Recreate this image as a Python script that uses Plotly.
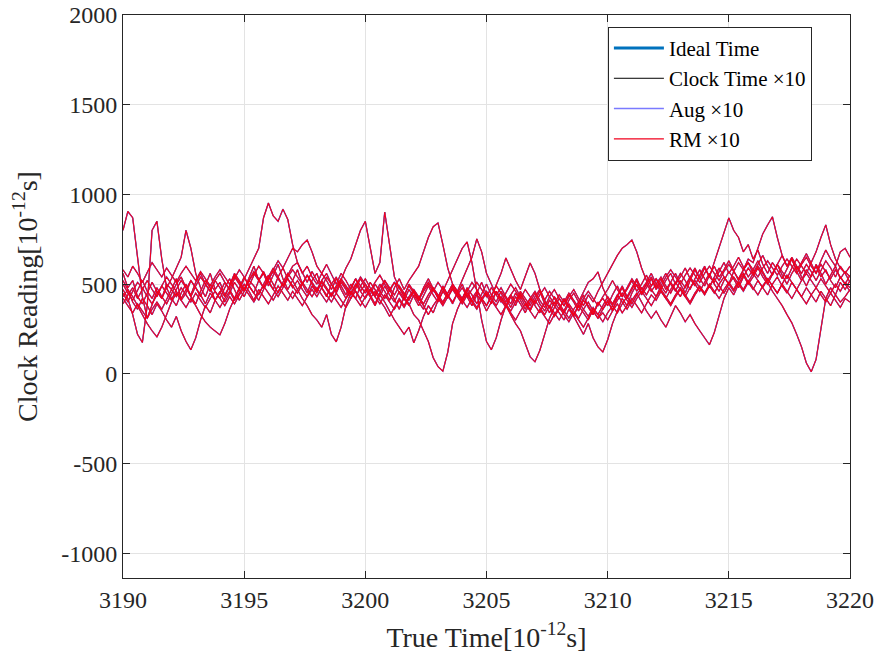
import numpy as np
import plotly.graph_objects as go

# sample grid of true time (10^-12 s)
true_time = [round(3190 + 0.2 * i, 1) for i in range(151)]

run1 = [800, 905, 870, 660, 430, 310, 380, 460, 420, 500,
        470, 530, 410, 450, 520, 480, 430, 500, 560, 470,
        510, 440, 490, 560, 520, 470, 540, 600, 520, 560,
        490, 550, 610, 530, 470, 520, 580, 500, 450, 520,
        560, 480, 430, 500, 540, 470, 420, 480, 530, 460,
        500, 440, 390, 450, 520, 470, 410, 360, 430, 390,
        330, 300, 240, 180, 90, 40, 15, 120, 280, 360,
        420, 470, 400, 450, 510, 440, 390, 460, 410, 370,
        430, 380, 450, 400, 350, 410, 460, 390, 340, 400,
        360, 420, 380, 320, 390, 440, 370, 330, 400, 360,
        410, 350, 430, 480, 420, 470, 520, 450, 500, 540,
        480, 530, 470, 510, 560, 500, 450, 520, 580, 530,
        590, 540, 620, 700, 780, 869, 800, 760, 680, 720,
        640, 690, 610, 560, 620, 580, 530, 590, 640, 570,
        520, 580, 540, 610, 560, 500, 550, 600, 530, 570,
        540]
run2 = [470, 420, 330, 220, 175, 380, 800, 850, 640, 480,
        420, 380, 450, 500, 430, 390, 460, 520, 480, 410,
        450, 510, 470, 420, 480, 540, 490, 450, 520, 570,
        510, 470, 540, 590, 530, 480, 520, 470, 430, 490,
        450, 520, 560, 500, 460, 530, 590, 640, 720, 800,
        850, 700, 560, 620, 902, 720, 540, 480, 430, 500,
        460, 410, 480, 530, 470, 420, 490, 440, 390, 450,
        500, 430, 380, 440, 410, 350, 400, 460, 420, 380,
        330, 280, 240, 170, 95, 67, 130, 220, 310, 370,
        420, 380, 440, 400, 350, 410, 380, 330, 390, 420,
        380, 440, 490, 430, 470, 520, 460, 500, 550, 490,
        530, 470, 520, 560, 500, 540, 590, 530, 490, 550,
        600, 540, 510, 570, 620, 560, 600, 650, 590, 540,
        580, 630, 570, 520, 560, 610, 550, 500, 560, 600,
        540, 490, 550, 600, 540, 580, 520, 480, 540, 500,
        460]
run3 = [560, 480, 520, 430, 390, 450, 510, 460, 420, 480,
        530, 590, 650, 800, 700, 560, 480, 430, 500, 460,
        420, 480, 530, 470, 410, 460, 520, 490, 440, 500,
        550, 500, 450, 510, 560, 520, 470, 420, 380, 330,
        300, 260, 330, 220, 178, 260, 380, 450, 420, 490,
        530, 480, 440, 500, 460, 410, 480, 530, 470, 520,
        560, 600, 680, 760, 820, 841, 720, 590, 500, 460,
        420, 480, 440, 390, 450, 500, 440, 400, 460, 420,
        370, 430, 390, 340, 400, 450, 390, 350, 410, 380,
        340, 300, 360, 320, 270, 220, 280, 200, 150, 122,
        190, 280, 350, 420, 380, 450, 500, 440, 480, 530,
        470, 510, 560, 500, 460, 520, 480, 540, 590, 530,
        490, 550, 600, 540, 580, 630, 570, 520, 580, 620,
        560, 610, 660, 600, 550, 610, 660, 600, 640, 580,
        620, 670, 610, 560, 630, 690, 640, 600, 680, 700,
        650]
run4 = [430, 470, 400, 360, 420, 380, 330, 390, 350, 300,
        260, 320, 240, 180, 134, 200, 300, 380, 340, 410,
        460, 400, 450, 510, 470, 530, 590, 640, 700, 870,
        952, 880, 850, 918, 860, 720, 620, 560, 600, 540,
        500, 560, 520, 470, 530, 490, 440, 500, 460, 420,
        470, 430, 380, 440, 400, 350, 300, 260, 220, 260,
        173, 240, 320, 380, 340, 410, 460, 420, 480, 440,
        400, 460, 510, 470, 420, 380, 440, 490, 450, 400,
        440, 480, 430, 380, 420, 460, 410, 370, 430, 470,
        420, 380, 430, 470, 420, 380, 440, 400, 460, 510,
        560, 610, 660, 700, 720, 746, 680, 590, 520, 470,
        430, 490, 450, 510, 470, 430, 490, 540, 500, 460,
        510, 560, 500, 460, 520, 570, 530, 480, 540, 590,
        550, 600, 560, 510, 460, 420, 380, 330, 284, 220,
        150, 60, 11, 80, 260, 420, 480, 440, 510, 470,
        520]
run5 = [500, 450, 410, 470, 520, 460, 420, 480, 430, 390,
        450, 500, 540, 480, 440, 510, 560, 500, 460, 520,
        480, 430, 490, 540, 500, 460, 520, 570, 530, 480,
        540, 590, 540, 490, 550, 600, 620, 560, 510, 570,
        520, 480, 540, 500, 450, 510, 470, 420, 480, 530,
        480, 440, 500, 460, 420, 470, 510, 450, 410, 470,
        430, 380, 440, 490, 440, 400, 460, 520, 580, 640,
        700, 735, 620, 460, 300, 180, 134, 200, 300, 380,
        440, 400, 460, 420, 380, 430, 470, 410, 370, 430,
        390, 350, 410, 450, 400, 460, 510, 530, 568, 480,
        420, 380, 440, 490, 430, 480, 530, 470, 510, 560,
        500, 540, 490, 450, 510, 560, 520, 470, 530, 580,
        530, 480, 540, 590, 540, 500, 570, 620, 580, 640,
        620, 700, 780, 830, 875, 760, 660, 600, 650, 600,
        560, 610, 570, 520, 580, 630, 590, 540, 600, 560,
        600]
run6 = [450, 400, 460, 510, 480, 430, 390, 440, 490, 450,
        410, 470, 520, 480, 430, 490, 540, 500, 460, 520,
        560, 510, 470, 530, 580, 540, 490, 550, 600, 560,
        520, 580, 630, 590, 650, 700, 680, 720, 746, 680,
        600, 560, 610, 550, 500, 560, 520, 470, 530, 490,
        450, 510, 470, 430, 490, 440, 400, 460, 420, 380,
        440, 400, 360, 420, 470, 430, 390, 450, 500, 460,
        520, 580, 650, 752, 680, 560, 500, 440, 480, 430,
        390, 450, 410, 360, 420, 380, 340, 400, 370, 320,
        360, 410, 370, 330, 380, 340, 300, 360, 330, 380,
        430, 390, 440, 400, 360, 410, 450, 400, 350, 310,
        350, 300, 260, 320, 380, 340, 290, 330, 280, 240,
        200, 162, 230, 330, 420, 480, 440, 500, 550, 500,
        540, 590, 540, 500, 560, 610, 570, 530, 590, 640,
        600, 560, 620, 680, 760, 830, 720, 640, 590, 560,
        510]
run7 = [390, 440, 480, 420, 470, 520, 470, 430, 490, 540,
        500, 460, 420, 470, 520, 480, 440, 390, 450, 410,
        370, 420, 460, 410, 450, 500, 460, 410, 470, 430,
        390, 440, 490, 450, 410, 460, 420, 380, 430, 470,
        430, 480, 440, 400, 450, 410, 370, 420, 460, 410,
        370, 420, 460, 410, 370, 320, 370, 420, 380, 430,
        470, 430, 390, 440, 480, 440, 400, 450, 490, 450,
        410, 370, 420, 460, 420, 380, 430, 490, 560, 646,
        580, 520, 470, 540, 618, 560, 470, 410, 460, 420,
        380, 340, 390, 350, 310, 360, 400, 350, 310, 340,
        300, 350, 390, 340, 380, 420, 380, 340, 390, 440,
        410, 460, 420, 380, 430, 470, 430, 390, 440, 480,
        450, 500, 460, 420, 470, 510, 470, 520, 560, 510,
        470, 520, 480, 440, 500, 540, 490, 450, 510, 470,
        430, 480, 440, 400, 460, 420, 380, 440, 400, 430,
        470]
run8 = [520, 470, 430, 380, 330, 280, 240, 206, 260, 330,
        400, 450, 410, 370, 420, 380, 330, 290, 260, 240,
        217, 280, 360, 420, 470, 430, 490, 450, 410, 470,
        520, 470, 430, 480, 530, 490, 450, 500, 550, 500,
        460, 510, 470, 430, 480, 520, 480, 440, 490, 540,
        500, 460, 510, 550, 500, 460, 510, 480, 440, 490,
        450, 410, 460, 500, 460, 510, 470, 430, 480, 440,
        480, 430, 470, 510, 470, 430, 480, 440, 400, 450,
        500, 460, 420, 470, 430, 390, 440, 480, 430, 390,
        440, 400, 450, 410, 370, 420, 460, 420, 380, 430,
        470, 520, 470, 430, 480, 530, 490, 450, 500, 460,
        500, 460, 420, 470, 510, 470, 430, 480, 520, 480,
        440, 490, 530, 490, 450, 500, 540, 500, 460, 510,
        560, 520, 480, 530, 490, 450, 500, 550, 510, 470,
        520, 560, 520, 480, 530, 490, 450, 500, 460, 510,
        480]
run9 = [580, 540, 600, 560, 510, 570, 620, 580, 540, 590,
        550, 510, 560, 600, 560, 520, 570, 530, 490, 540,
        580, 540, 500, 550, 510, 470, 520, 560, 520, 480,
        530, 570, 530, 490, 540, 580, 540, 500, 550, 510,
        470, 520, 480, 440, 490, 530, 490, 450, 500, 460,
        420, 470, 430, 480, 520, 480, 440, 490, 450, 410,
        460, 420, 470, 510, 470, 430, 480, 440, 400, 450,
        410, 450, 410, 370, 420, 460, 420, 380, 430, 390,
        350, 400, 440, 400, 360, 410, 370, 330, 380, 340,
        300, 350, 310, 360, 400, 360, 320, 370, 330, 290,
        340, 380, 340, 390, 430, 390, 440, 480, 440, 490,
        530, 490, 540, 580, 540, 500, 550, 590, 550, 510,
        560, 600, 560, 520, 570, 610, 570, 530, 580, 620,
        580, 540, 590, 630, 590, 550, 600, 640, 600, 560,
        610, 650, 600, 560, 610, 570, 530, 580, 540, 500,
        550]
run10 = [420, 380, 340, 390, 350, 310, 360, 400, 360, 420,
         470, 430, 480, 440, 400, 450, 410, 370, 420, 460,
         420, 380, 430, 390, 440, 480, 440, 400, 450, 490,
         450, 410, 460, 500, 460, 420, 470, 510, 470, 430,
         480, 440, 400, 450, 410, 370, 420, 460, 420, 380,
         430, 470, 430, 390, 440, 400, 360, 410, 370, 420,
         460, 420, 380, 330, 380, 420, 380, 430, 470, 430,
         390, 440, 400, 360, 410, 450, 410, 370, 330, 380,
         340, 300, 350, 390, 350, 310, 360, 320, 280, 330,
         370, 330, 290, 340, 300, 260, 310, 350, 310, 360,
         400, 360, 410, 450, 410, 370, 420, 460, 420, 380,
         430, 470, 430, 390, 440, 480, 440, 400, 450, 490,
         450, 490, 450, 500, 540, 500, 460, 510, 470, 520,
         480, 440, 490, 530, 490, 450, 500, 460, 420, 470,
         430, 390, 440, 480, 440, 400, 450, 410, 370, 420,
         400]

runs = [run1, run2, run3, run4, run5, run6, run7, run8, run9, run10]
ideal_x = [3190, 3220]
ideal_y = [3190, 3220]

x_ticks = [3190, 3195, 3200, 3205, 3210, 3215, 3220]
x_tick_text = ["3190", "3195", "3200", "3205", "3210", "3215", "3220"]
y_ticks = [-1000, -500, 0, 500, 1000, 1500, 2000]
y_tick_text = ["-1000", "-500", "0", "500", "1000", "1500", "2000"]

FONT = "Liberation Serif, Times New Roman, serif"
INK = "#262626"

fig = go.Figure()
fig.add_trace(go.Scatter(x=ideal_x, y=ideal_y, mode="lines", name="Ideal Time",
                         line=dict(color="#0072BD", width=3)))
groups = [("Clock Time ×10", "#000000", 1.0),
          ("Aug ×10", "#7a7aff", 1.4),
          ("RM ×10", "#f0001c", 1.1)]
for name, color, w in groups:
    for k, r in enumerate(runs):
        fig.add_trace(go.Scatter(x=true_time, y=r, mode="lines", name=name,
                                 legendgroup=name, showlegend=(k == 0),
                                 line=dict(color=color, width=w)))

axis_common = dict(showline=True, linecolor=INK, linewidth=1, mirror="ticks",
                   ticks="inside", ticklen=7, tickcolor=INK, automargin=False,
                   showgrid=True, gridcolor="#e3e3e3", gridwidth=1,
                   zeroline=False, tickfont=dict(family=FONT, size=24, color=INK))

fig.update_layout(
    width=874, height=666,
    margin=dict(l=123, r=24, t=15, b=88),
    paper_bgcolor="white", plot_bgcolor="white",
    font=dict(family=FONT, color=INK),
    xaxis=dict(range=[3190, 3220], tickvals=x_ticks, ticktext=x_tick_text,
               title=dict(text="True Time[10<sup>-12</sup>s]",
                          font=dict(family=FONT, size=28, color=INK)),
               **axis_common),
    yaxis=dict(range=[-1138, 2000], tickvals=y_ticks, ticktext=y_tick_text,
               title=dict(text="Clock Reading[10<sup>-12</sup>s]",
                          font=dict(family=FONT, size=28, color=INK)),
               **axis_common),
    legend=dict(x=0.667, y=0.979, xanchor="left", yanchor="top",
                bgcolor="white", bordercolor=INK, borderwidth=1,
                font=dict(family=FONT, size=21, color="#000000"),
                tracegroupgap=0, itemwidth=50),
    showlegend=True,
)

fig.write_html("out.html")
